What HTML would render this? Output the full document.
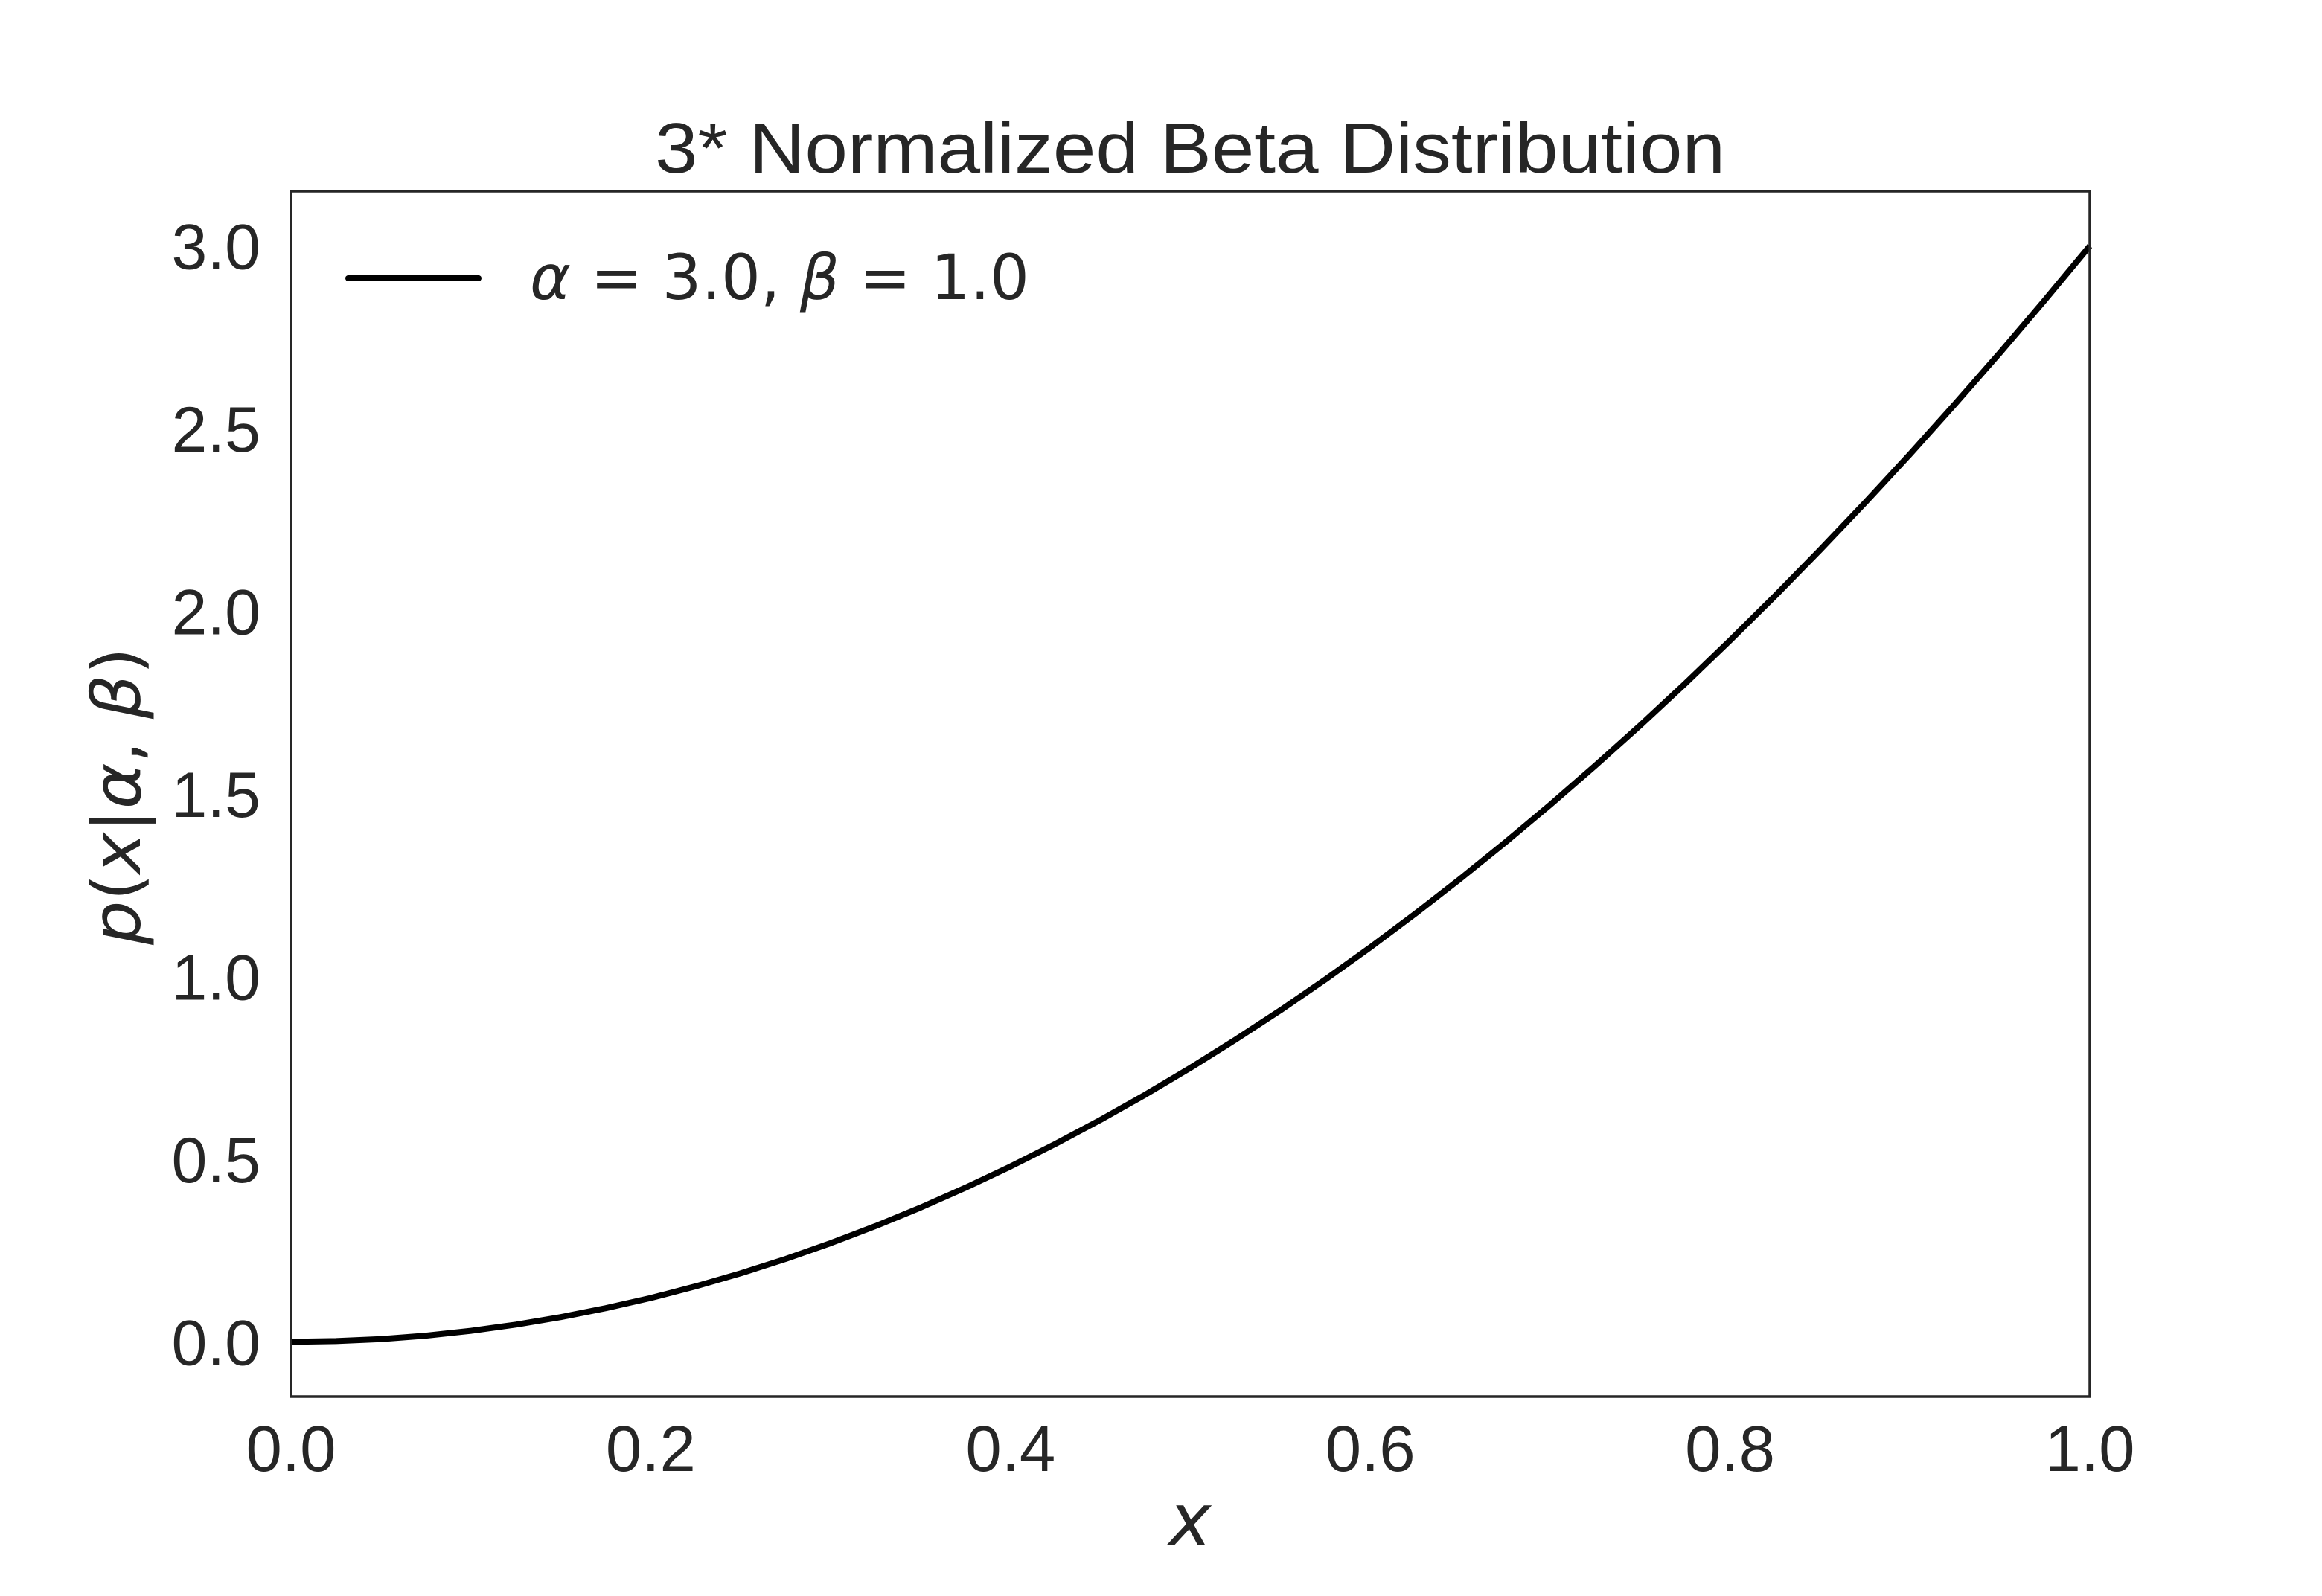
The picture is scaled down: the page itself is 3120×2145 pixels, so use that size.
<!DOCTYPE html>
<html><head><meta charset="utf-8"><style>html,body{margin:0;padding:0;background:#fff}svg{display:block}</style></head>
<body>
<svg id="chart" width="3120" height="2145" viewBox="0 0 3120 2145" xmlns="http://www.w3.org/2000/svg">
<rect width="3120" height="2145" fill="#fff"/>
<text x="1599" y="232" text-anchor="middle" font-family="Liberation Sans, sans-serif" font-size="96" fill="#262626" textLength="1438" lengthAdjust="spacingAndGlyphs">3* Normalized Beta Distribution</text>
<g id="ticks"></g>
<path id="curve" fill="none" stroke="#000" stroke-width="8" stroke-linejoin="round"/>
<rect x="391" y="257" width="2417" height="1620" fill="none" stroke="#262626" stroke-width="3.5"/>
<g>
<line x1="468" y1="374" x2="643" y2="374" stroke="#000" stroke-width="8" stroke-linecap="round"/>
<text x="712" y="402" font-family="DejaVu Sans, sans-serif" font-size="84" fill="#262626" textLength="671" lengthAdjust="spacingAndGlyphs"><tspan font-style="italic">α</tspan> = 3.0,  <tspan font-style="italic">β</tspan> = 1.0</text>
</g>
<text x="1599" y="2076" text-anchor="middle" font-family="DejaVu Sans, sans-serif" font-style="italic" font-size="96" fill="#262626">x</text>
<text transform="translate(188,1070) rotate(-90)" text-anchor="middle" font-family="DejaVu Sans, sans-serif" font-size="90" fill="#262626" textLength="400" lengthAdjust="spacingAndGlyphs"><tspan font-style="italic">p</tspan>(<tspan font-style="italic">x</tspan>|<tspan font-style="italic">α</tspan>, <tspan font-style="italic">β</tspan>)</text>
</svg>
<script>
const xValues = [0,0.025,0.05,0.075,0.1,0.125,0.15,0.175,0.2,0.225,0.25,0.275,0.3,0.325,0.35,0.375,0.4,0.425,0.45,0.475,0.5,0.525,0.55,0.575,0.6,0.625,0.65,0.675,0.7,0.725,0.75,0.775,0.8,0.825,0.85,0.875,0.9,0.925,0.95,0.975,1.0];
const yValues = [0,0.0019,0.0075,0.0169,0.03,0.0469,0.0675,0.0919,0.12,0.1519,0.1875,0.2269,0.27,0.3169,0.3675,0.4219,0.48,0.5419,0.6075,0.6769,0.75,0.8269,0.9075,0.9919,1.08,1.1719,1.2675,1.3669,1.47,1.5769,1.6875,1.8019,1.92,2.0419,2.1675,2.2969,2.43,2.5669,2.7075,2.8519,3.0];
const xTicks = [0,0.2,0.4,0.6,0.8,1.0];
const xTickLabels = ["0.0","0.2","0.4","0.6","0.8","1.0"];
const yTicks = [0,0.5,1,1.5,2,2.5,3];
const yTickLabels = ["0.0","0.5","1.0","1.5","2.0","2.5","3.0"];
const X0=391,X1=2808,Y0=1877,Y1=257,xmin=0,xmax=1,ymin=-0.15,ymax=3.15;
function sx(v){return X0+(v-xmin)/(xmax-xmin)*(X1-X0);}
function sy(v){return Y0-(v-ymin)/(ymax-ymin)*(Y0-Y1);}
const NS="http://www.w3.org/2000/svg";
const g=document.getElementById('ticks');
xTicks.forEach((t,i)=>{
  const el=document.createElementNS(NS,'text');
  
  
  el.setAttribute('x',sx(t));el.setAttribute('y',1977);
  el.setAttribute('text-anchor','middle');
  el.setAttribute('font-family','Liberation Sans, sans-serif');
  el.setAttribute('font-size','87');el.setAttribute('fill','#262626');
  el.textContent=xTickLabels[i];g.appendChild(el);
});
yTicks.forEach((t,i)=>{
  const el=document.createElementNS(NS,'text');
  
  
  el.setAttribute('x',350);el.setAttribute('y',sy(t)+31);
  el.setAttribute('text-anchor','end');
  el.setAttribute('font-family','Liberation Sans, sans-serif');
  el.setAttribute('font-size','86');el.setAttribute('fill','#262626');
  el.textContent=yTickLabels[i];g.appendChild(el);
});
let d='';
xValues.forEach((x,i)=>{d+=(i?'L':'M')+sx(x).toFixed(1)+','+sy(yValues[i]).toFixed(1);});
document.getElementById('curve').setAttribute('d',d);
</script>
</body></html>
